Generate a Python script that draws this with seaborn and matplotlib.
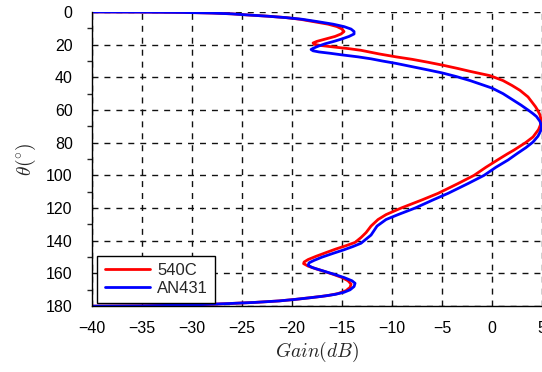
import matplotlib.pyplot as plt
import pandas as pd
import numpy as np
import seaborn as sns

sns.set_style('white')
plt.rcParams['font.family'] = ['Liberation Sans', 'DejaVu Sans']
plt.rcParams['mathtext.fontset'] = 'cm'

# 540C 方向图 (theta, gain)
theta_540c = [0, 0.1, 0.3, 0.7, 1.2, 1.8, 2.6, 3.5, 4.5, 5.9, 7.5, 9, 10.5, 12, 13.5, 15,
              16.5, 18, 19, 19.8, 20.5, 21.5, 22.5, 23.5, 24.6, 25.7, 27.5, 29, 30.8, 32.5,
              34.5, 36.5, 39, 42, 45, 48, 52, 56, 58, 60, 63, 66, 69, 72, 76.5, 80, 84.5,
              87, 90, 95, 100, 105, 111, 115, 120, 124, 127, 131, 135, 138, 141, 143, 145,
              147, 149.5, 151.5, 153, 154, 155.5, 157, 158.5, 160.5, 162.5, 164.5, 166.5,
              168.5, 170.5, 172.3, 173.5, 174.7, 175.8, 176.8, 177.7, 178.4, 179, 179.4,
              179.8, 180]
gain_540c = [-40, -35, -31, -28, -26, -24.6, -22.5, -20.6, -19.2, -17.9, -16.4, -15.5, -15.0,
             -14.8, -15.1, -15.7, -16.6, -17.5, -17.9, -17.8, -17.2, -15.8, -14.3, -13.1,
             -12.2, -11.3, -9.6, -8.0, -6.4, -5, -3.5, -2.1, -0.2, 1.1, 2.0, 2.8, 3.6, 4.1,
             4.35, 4.55, 4.8, 4.9, 4.85, 4.65, 4.1, 3.35, 2.2, 1.5, 0.7, -0.6, -1.8, -3.4,
             -5.4, -7.0, -9.1, -10.6, -11.4, -12.1, -12.6, -13.1, -13.7, -14.6, -15.6,
             -16.5, -17.6, -18.4, -18.8, -18.85, -18.4, -17.7, -16.9, -15.9, -15.0, -14.4,
             -14.1, -14.2, -14.6, -15.4, -16.4, -18, -19.6, -21.3, -23.7, -26.3, -28.9,
             -31.3, -35, -40]

# AN431 方向图
theta_an431 = [0, 0.1, 0.3, 0.7, 1.2, 1.8, 2.6, 3.5, 4.5, 5.9, 7.5, 9, 10.5, 12, 13.5, 15,
               16.5, 18, 19.5, 21, 22.3, 23, 23.8, 24.5, 25.3, 26.3, 27.5, 28.7, 30, 31.5,
               33.5, 35.5, 37.3, 39.5, 42, 44.5, 46.6, 50, 53.5, 57, 60, 62, 64, 67, 70, 73,
               76, 79.6, 83, 86.5, 90.6, 95, 100, 105, 111, 115, 120, 124, 127, 131, 136.5,
               139, 141.5, 143.5, 145.5, 147.5, 150, 152, 153.5, 155, 156.3, 157.5, 159,
               160.5, 162.5, 164.5, 166, 168, 170, 171.5, 172.8, 174, 175, 176, 176.8,
               177.7, 178.4, 179, 179.4, 179.8, 180]
gain_an431 = [-40, -35, -31, -28, -26, -24.6, -22.5, -20.6, -19.0, -17.5, -15.9, -14.8, -14.1,
              -13.8, -13.8, -14.3, -15.0, -15.8, -16.7, -17.4, -17.9, -18.1, -17.9, -17.3,
              -16.2, -15, -13.4, -12.1, -11.0, -9.6, -8.0, -6.4, -5, -3.6, -2.2, -1.0, 0,
              1.1, 2.0, 2.9, 3.6, 4.05, 4.45, 4.8, 4.95, 4.85, 4.6, 4.1, 3.4, 2.55, 1.6,
              0.4, -0.8, -2.4, -4.4, -5.9, -7.7, -9.4, -10.6, -11.5, -12.1, -12.6, -13.1,
              -13.9, -14.8, -15.8, -17.0, -17.8, -18.3, -18.4, -18.0, -17.4, -16.6, -15.8,
              -14.8, -14.0, -13.7, -13.8, -14.2, -14.8, -15.7, -17, -18.4, -19.9, -21.3,
              -23.7, -26.3, -28.9, -31.3, -35, -40]

df1 = pd.DataFrame({'theta': theta_540c, 'gain': gain_540c})
df2 = pd.DataFrame({'theta': theta_an431, 'gain': gain_an431})

fig = plt.figure(figsize=(5.42, 3.72), dpi=100)
ax = fig.add_axes([0.170, 0.177, 0.830, 0.791])

sns.lineplot(data=df1, x='gain', y='theta', sort=False, estimator=None,
             color='red', lw=2, label='540C', ax=ax)
sns.lineplot(data=df2, x='gain', y='theta', sort=False, estimator=None,
             color='blue', lw=2, label='AN431', ax=ax)

ax.set_xlim(-40, 5)
ax.set_ylim(180, 0)
ax.set_xticks(np.arange(-40, 6, 5))
ax.set_yticks(np.arange(0, 181, 20))
ax.set_yticks(np.arange(10, 180, 20), minor=True)
ax.grid(True, which='major', color='#111111', linestyle=(0, (4.3, 4.3)), lw=1)
ax.set_axisbelow(True)

for s in ['top', 'right']:
    ax.spines[s].set_visible(False)
for s in ['left', 'bottom']:
    ax.spines[s].set_color('black')
    ax.spines[s].set_linewidth(1)

ax.tick_params(which='major', direction='inout', length=10, width=1,
               labelsize=11.5, colors='black')
ax.tick_params(axis='y', which='major', pad=9)
ax.tick_params(axis='x', which='major', pad=5.5)
ax.tick_params(axis='y', which='minor', direction='out', length=3.5, width=1, left=True)

ax.set_xlabel(r'$Gain(dB)$', fontsize=14, labelpad=3)
ax.set_ylabel(r'$\theta(^{\circ})$', fontsize=14, labelpad=6)

leg = ax.legend(loc='lower left', bbox_to_anchor=(0.011, 0.01), borderaxespad=0,
                fontsize=12, handlelength=2.7, handletextpad=0.45, fancybox=False,
                edgecolor='black', framealpha=1, borderpad=0.45, labelspacing=0.15)
leg.get_frame().set_linewidth(1)

fig.savefig('out.png', dpi=100)
